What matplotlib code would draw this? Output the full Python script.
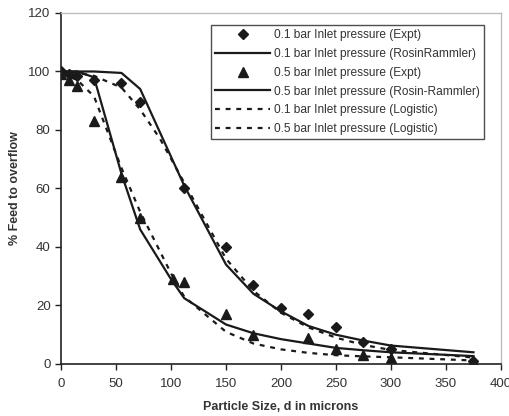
import numpy as np
import matplotlib.pyplot as plt

plt.rcParams['font.family'] = ['Liberation Sans', 'DejaVu Sans']

# experimental points
d_01 = [0, 7, 15, 30, 55, 72, 112, 150, 175, 200, 225, 250, 275, 300, 375]
f_01 = [100, 99, 98.5, 97, 96, 89.5, 60, 40, 27, 19, 17, 12.5, 7.5, 5, 1]
d_05 = [0, 7, 15, 30, 55, 72, 102, 112, 150, 175, 225, 250, 275, 300, 375]
f_05 = [99, 97, 95, 83, 64, 50, 29, 28, 17, 10, 9, 5, 3, 2, 1]

# Rosin-Rammler fits
d_rr01 = [0, 15, 30, 55, 72, 112, 150, 175, 200, 225, 250, 275, 300, 375]
f_rr01 = [100, 100, 100, 99.5, 94, 61, 34, 24, 18, 13, 10, 8, 6.3, 4]
d_rr05 = [0, 15, 30, 55, 72, 100, 112, 150, 175, 200, 225, 250, 275, 300, 375]
f_rr05 = [100, 100, 98, 65, 46, 29, 22.5, 13.5, 10.5, 8.5, 7, 5.5, 4.7, 4, 2.7]

# Logistic fits
d_lg01 = [0, 15, 30, 55, 72, 90, 112, 150, 175, 200, 225, 250, 275, 300, 375]
f_lg01 = [100, 99.5, 98.5, 94.5, 87, 77, 62, 36, 25, 17.5, 12.5, 9, 6.5, 4.8, 2.2]
d_lg05 = [0, 15, 30, 55, 72, 100, 112, 150, 175, 200, 225, 250, 275, 300, 375]
f_lg05 = [99.5, 97, 91.5, 67, 52, 31, 23, 11, 7, 5, 3.8, 3, 2.6, 2.3, 1.2]

fig = plt.figure(figsize=(5.1, 4.16), dpi=100)
ax = fig.add_axes([0.1196, 0.125, 0.8627, 0.8438])

ax.plot(d_01, f_01, linestyle='none', marker='D', ms=5.5, color='#1a1a1a',
        label='0.1 bar Inlet pressure (Expt)')
ax.plot(d_rr01, f_rr01, '-', lw=1.6, color='#1a1a1a',
        label='0.1 bar Inlet pressure (RosinRammler)')
ax.plot(d_05, f_05, linestyle='none', marker='^', ms=6.5, color='#1a1a1a',
        label='0.5 bar Inlet pressure (Expt)')
ax.plot(d_rr05, f_rr05, '-', lw=1.6, color='#1a1a1a',
        label='0.5 bar Inlet pressure (Rosin-Rammler)')
ax.plot(d_lg01, f_lg01, '--', lw=1.6, dashes=(2.2, 2.6), color='#1a1a1a',
        label='0.1 bar Inlet pressure (Logistic)')
ax.plot(d_lg05, f_lg05, '--', lw=1.6, dashes=(2.2, 2.6), color='#1a1a1a',
        label='0.5 bar Inlet pressure (Logistic)')

ax.set_xlim(0, 400)
ax.set_ylim(0, 120)
ax.set_xticks(np.arange(0, 401, 50))
ax.set_yticks(np.arange(0, 121, 20))
ax.tick_params(direction='out', length=4, width=1, labelsize=9.5,
               labelcolor='#333333', color='#222222')
ax.tick_params(axis='x', pad=6)

for s in ['left', 'bottom']:
    ax.spines[s].set_color('#222222')
    ax.spines[s].set_linewidth(1.2)
for s in ['top', 'right']:
    ax.spines[s].set_color('#bdbdbd')
    ax.spines[s].set_linewidth(1)

ax.set_xlabel('Particle Size, d in microns', fontsize=9, fontweight='bold',
              color='#333333', labelpad=8)
ax.set_ylabel('% Feed to overflow', fontsize=9, fontweight='bold',
              color='#333333', labelpad=5)

leg = ax.legend(loc='upper left', bbox_to_anchor=(0.341, 0.966), fontsize=8.6,
                frameon=True, fancybox=False, handlelength=4.6,
                handletextpad=0.3, labelspacing=0.57, borderpad=0.35,
                borderaxespad=0)
leg.get_frame().set_edgecolor('#222222')
leg.get_frame().set_linewidth(1)
for t in leg.get_texts():
    t.set_color('#333333')

fig.savefig('out.png', dpi=100)
